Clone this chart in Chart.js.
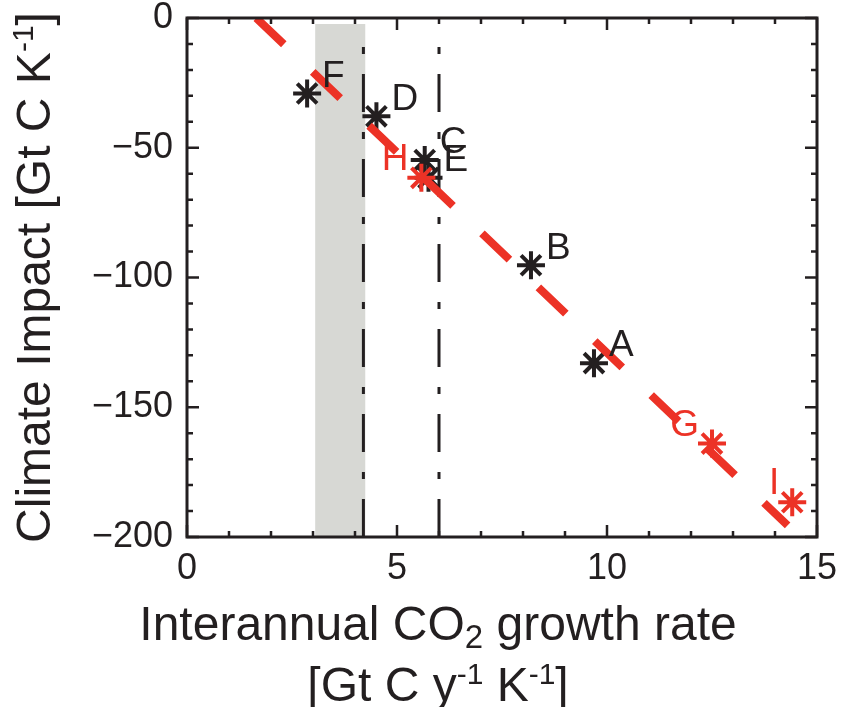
<!DOCTYPE html>
<html>
<head>
    <meta charset="UTF-8">
    <title>Climate Impact vs Interannual CO2 growth rate</title>
    <script src="https://cdn.jsdelivr.net/npm/chart.js"></script>
    <style>
        html, body { margin: 0; padding: 0; background: #fff; }
        #wrap { width: 841px; height: 707px; }
    </style>
</head>
<body>
<div id="wrap">
    <canvas id="impact-chart" width="841" height="707"></canvas>
</div>

<script>
    // Models (black stars)
    const modelNames = ['A', 'B', 'C', 'D', 'E', 'F'];
    const modelX = [9.69, 8.19, 5.66, 4.51, 5.75, 2.86];
    const modelY = [-133, -95.3, -54.7, -37.9, -61.6, -29.1];

    // Models (red stars)
    const redNames = ['G', 'H', 'I'];
    const redX = [12.5, 5.58, 14.41];
    const redY = [-164, -61.6, -186.6];

    // Regression line end points
    const fitX = [1.65, 14.3];
    const fitY = [0, -195.5];

    // Observational constraint
    const bandX = [3.05, 4.25];
    const bandTop = -2.3;
    const constraintX = [4.2, 6.0];
    const constraintY = [-200, -5];

    const xTicks = [0, 5, 10, 15];
    const yTicks = [0, -50, -100, -150, -200];

    const BLACK = '#231f20';
    const RED = '#ec3226';
    const FONT = '"Liberation Sans", Arial, Helvetica, sans-serif';

    const toPts = (xs, ys) => xs.map((x, i) => ({ x: x, y: ys[i] }));

    // ticks inward on all four sides + frame
    const framePlugin = {
        id: 'frame',
        afterDatasetsDraw(chart) {
            const { ctx, chartArea: a, scales: { x, y } } = chart;
            ctx.save();
            ctx.strokeStyle = BLACK;
            ctx.lineWidth = 2.5;
            ctx.beginPath();
            for (let v = 0; v <= 15; v++) {
                const px = x.getPixelForValue(v);
                const len = v % 5 === 0 ? 12 : 6;
                ctx.moveTo(px, a.bottom); ctx.lineTo(px, a.bottom - len);
                ctx.moveTo(px, a.top); ctx.lineTo(px, a.top + len);
            }
            for (let v = -200; v <= 0; v += 10) {
                const py = y.getPixelForValue(v);
                const len = v % 50 === 0 ? 12 : 6;
                ctx.moveTo(a.left, py); ctx.lineTo(a.left + len, py);
                ctx.moveTo(a.right, py); ctx.lineTo(a.right - len, py);
            }
            ctx.stroke();
            ctx.lineWidth = 3;
            ctx.strokeRect(a.left, a.top, a.right - a.left, a.bottom - a.top);
            ctx.restore();
        }
    };

    // letters next to the stars
    const pointLabels = {
        id: 'pointLabels',
        afterDatasetsDraw(chart) {
            const ctx = chart.ctx;
            ctx.save();
            ctx.font = '37px ' + FONT;
            ctx.textBaseline = 'middle';
            chart.data.datasets.forEach((ds, i) => {
                if (!ds.names) return;
                const meta = chart.getDatasetMeta(i);
                meta.data.forEach((pt, j) => {
                    ctx.fillStyle = ds.borderColor;
                    if (ds.labelSide === 'left') {
                        ctx.textAlign = 'right';
                        ctx.fillText(ds.names[j], pt.x - 13, pt.y - 18);
                    } else {
                        ctx.textAlign = 'left';
                        ctx.fillText(ds.names[j], pt.x + 15, pt.y - 17);
                    }
                });
            });
            ctx.restore();
        }
    };

    // draw a run of [text, size, dy] pieces centred on cx
    function runWidth(ctx, parts) {
        let w = 0;
        parts.forEach(p => { ctx.font = p[1] + 'px ' + FONT; w += ctx.measureText(p[0]).width; });
        return w;
    }
    function drawRun(ctx, parts, cx, baseY) {
        let x = cx - runWidth(ctx, parts) / 2;
        ctx.textAlign = 'left';
        ctx.textBaseline = 'alphabetic';
        parts.forEach(p => {
            ctx.font = p[1] + 'px ' + FONT;
            ctx.fillText(p[0], x, baseY + p[2]);
            x += ctx.measureText(p[0]).width;
        });
    }

    const axisTitles = {
        id: 'axisTitles',
        afterDraw(chart) {
            const ctx = chart.ctx;
            const a = chart.chartArea;
            ctx.save();
            ctx.fillStyle = BLACK;
            const cx = a.left + 251;
            drawRun(ctx, [['Interannual CO', 48, 0], ['2', 33, 8], [' growth rate', 48, 0]], cx, 640);
            drawRun(ctx, [['[Gt C y', 48, 0], ['-1', 30, -17], [' K', 48, 0], ['-1', 30, -17], [']', 48, 0]], cx, 701);

            ctx.translate(50, (a.top + a.bottom) / 2);
            ctx.rotate(-Math.PI / 2);
            drawRun(ctx, [['Climate Impact [Gt C K', 48, 0], ['-1', 30, -17], [']', 48, 0]], 0, 0);
            ctx.restore();
        }
    };

    const ctx = document.getElementById('impact-chart').getContext('2d');

    new Chart(ctx, {
        type: 'scatter',
        data: {
            datasets: [
                {
                    label: 'red models',
                    data: toPts(redX, redY),
                    names: redNames,
                    labelSide: 'left',
                    pointStyle: 'star',
                    pointRadius: 14,
                    borderWidth: 4,
                    borderColor: RED,
                    backgroundColor: RED,
                    showLine: false
                },
                {
                    label: 'fit',
                    data: toPts(fitX, fitY),
                    showLine: true,
                    borderColor: RED,
                    borderWidth: 8,
                    borderDash: [38, 40],
                    borderCapStyle: 'butt',
                    pointRadius: 0
                },
                {
                    label: 'models',
                    data: toPts(modelX, modelY),
                    names: modelNames,
                    labelSide: 'right',
                    pointStyle: 'star',
                    pointRadius: 14,
                    borderWidth: 4,
                    borderColor: BLACK,
                    backgroundColor: BLACK,
                    showLine: false
                },
                {
                    label: 'constraint low',
                    data: [{ x: constraintX[0], y: constraintY[0] }, { x: constraintX[0], y: constraintY[1] }],
                    showLine: true,
                    borderColor: BLACK,
                    borderWidth: 3,
                    borderDash: [38, 20, 7, 20],
                    pointRadius: 0
                },
                {
                    label: 'constraint high',
                    data: [{ x: constraintX[1], y: constraintY[0] }, { x: constraintX[1], y: constraintY[1] }],
                    showLine: true,
                    borderColor: BLACK,
                    borderWidth: 3,
                    borderDash: [38, 20, 7, 20],
                    pointRadius: 0
                },
                {
                    label: 'band',
                    data: [{ x: bandX[0], y: bandTop }, { x: bandX[1], y: bandTop }],
                    showLine: true,
                    borderWidth: 0,
                    borderColor: 'rgba(0,0,0,0)',
                    backgroundColor: '#d7d8d4',
                    fill: 'start',
                    pointRadius: 0
                }
            ]
        },
        options: {
            responsive: false,
            animation: false,
            layout: { padding: { left: 0, right: 24, top: 14, bottom: 0 } },
            plugins: {
                legend: { display: false },
                tooltip: { enabled: false }
            },
            scales: {
                x: {
                    type: 'linear',
                    min: 0,
                    max: 15,
                    afterFit: s => {
                        s.height = 170;
                        s.paddingLeft = 0;
                        s.paddingRight = 0;
                    },
                    afterBuildTicks: s => { s.ticks = xTicks.map(v => ({ value: v })); },
                    grid: { display: false, drawTicks: false },
                    border: { display: false },
                    ticks: {
                        padding: 10,
                        color: BLACK,
                        font: { family: FONT, size: 36 },
                        maxRotation: 0
                    }
                },
                y: {
                    min: -200,
                    max: 0,
                    afterFit: s => {
                        s.width = 187;
                        s.paddingTop = 0;
                        s.paddingBottom = 0;
                    },
                    afterBuildTicks: s => { s.ticks = yTicks.map(v => ({ value: v })); },
                    grid: { display: false, drawTicks: false },
                    border: { display: false },
                    ticks: {
                        padding: 14,
                        color: BLACK,
                        font: { family: FONT, size: 36 },
                        callback: v => String(v).replace('-', '\u2212')
                    }
                }
            }
        },
        plugins: [framePlugin, pointLabels, axisTitles]
    });
</script>
</body>
</html>
